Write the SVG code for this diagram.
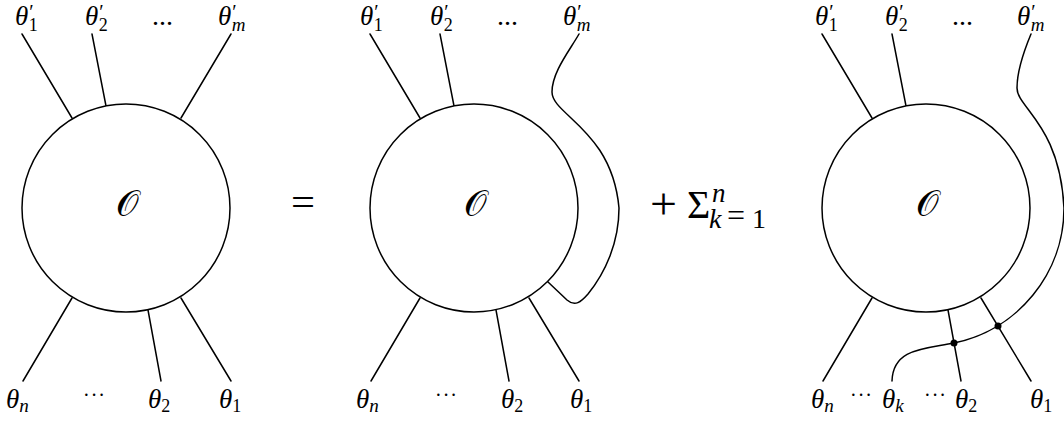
<svg xmlns="http://www.w3.org/2000/svg" width="1064" height="421" viewBox="0 0 1064 421">
<style>
.w{fill:none;stroke:#000;stroke-width:1.5;stroke-linecap:round}
.c{fill:#fff;stroke:#000;stroke-width:1.5}
text{font-family:'Liberation Serif','Times New Roman',serif;fill:#000}
.t{font-style:italic;font-size:27px}
.p{font-style:normal;font-size:20px}
.s{font-style:normal;font-size:18px}
.si{font-style:italic;font-size:19px}
.d{font-size:28px}
.cd{font-size:20px;letter-spacing:1px}
.O{font-family:'DejaVu Serif','Liberation Serif',serif;font-size:36px;text-anchor:middle}
</style>
<g id="connectors">
  <line class="w" x1="22" y1="34" x2="72" y2="118"/>
  <line class="w" x1="92" y1="34" x2="106" y2="106"/>
  <line class="w" x1="231" y1="34" x2="181" y2="118"/>
  <line class="w" x1="72" y1="298" x2="23" y2="381"/>
  <line class="w" x1="148" y1="310" x2="161" y2="381"/>
  <line class="w" x1="181" y1="298" x2="231" y2="381"/>

  <line class="w" x1="370" y1="34" x2="420" y2="118"/>
  <line class="w" x1="440" y1="34" x2="454" y2="106"/>
  <line class="w" x1="420" y1="298" x2="371" y2="381"/>
  <line class="w" x1="496" y1="310" x2="509" y2="381"/>
  <line class="w" x1="529" y1="298" x2="579" y2="381"/>
  <path class="w" d="M579,34 C570,50 552,72 552,92 C552,115 612,130 619,208 C619,243 605,273 588,294 C581,302 575,307 567,300 L548,282"/>

  <line class="w" x1="822" y1="34" x2="872" y2="118"/>
  <line class="w" x1="892" y1="34" x2="906" y2="106"/>
  <line class="w" x1="872" y1="298" x2="823" y2="381"/>
  <line class="w" x1="948" y1="310" x2="961" y2="381"/>
  <line class="w" x1="981" y1="298" x2="1031" y2="381"/>
  <path class="w" d="M1031,34 C1026,46 1017,70 1017,88 C1017,108 1060,125 1064,208 A138,138 0 0 1 954,343 C925,349 893,348 892,381"/>
  <circle cx="998" cy="326" r="3.5" fill="#000"/>
  <circle cx="954" cy="343" r="3.5" fill="#000"/>
</g>
<g id="node-O1">
  <circle class="c" cx="126" cy="208" r="104"/>
  <text class="O" x="127" y="216">𝒪</text>
</g>
<g id="node-O2">
  <circle class="c" cx="474" cy="208" r="104"/>
  <text class="O" x="475" y="216">𝒪</text>
</g>
<g id="node-O3">
  <circle class="c" cx="926" cy="208" r="104"/>
  <text class="O" x="927" y="216">𝒪</text>
</g>
<g id="labels-1">
  <text class="t" x="15" y="25">θ<tspan class="p" dx="1" dy="-6">′</tspan><tspan class="s" dx="-5" dy="12">1</tspan></text>
  <text class="t" x="85" y="25">θ<tspan class="p" dx="1" dy="-6">′</tspan><tspan class="s" dx="-5" dy="12">2</tspan></text>
  <text class="d" x="152" y="25">...</text>
  <text class="t" x="218" y="25">θ<tspan class="p" dx="1" dy="-6">′</tspan><tspan class="si" dx="-5" dy="12">m</tspan></text>
  <text class="t" x="6" y="408">θ<tspan class="si" dy="4">n</tspan></text>
  <text class="cd" x="83" y="402">···</text>
  <text class="t" x="148" y="408">θ<tspan class="s" dy="4">2</tspan></text>
  <text class="t" x="219" y="408">θ<tspan class="s" dy="4">1</tspan></text>
</g>
<g id="labels-2">
  <text class="t" x="360" y="25">θ<tspan class="p" dx="1" dy="-6">′</tspan><tspan class="s" dx="-5" dy="12">1</tspan></text>
  <text class="t" x="430" y="25">θ<tspan class="p" dx="1" dy="-6">′</tspan><tspan class="s" dx="-5" dy="12">2</tspan></text>
  <text class="d" x="497" y="25">...</text>
  <text class="t" x="563" y="25">θ<tspan class="p" dx="1" dy="-6">′</tspan><tspan class="si" dx="-5" dy="12">m</tspan></text>
  <text class="t" x="356" y="408">θ<tspan class="si" dy="4">n</tspan></text>
  <text class="cd" x="435" y="402">···</text>
  <text class="t" x="501" y="408">θ<tspan class="s" dy="4">2</tspan></text>
  <text class="t" x="570" y="408">θ<tspan class="s" dy="4">1</tspan></text>
</g>
<g id="labels-3">
  <text class="t" x="815" y="25">θ<tspan class="p" dx="1" dy="-6">′</tspan><tspan class="s" dx="-5" dy="12">1</tspan></text>
  <text class="t" x="885" y="25">θ<tspan class="p" dx="1" dy="-6">′</tspan><tspan class="s" dx="-5" dy="12">2</tspan></text>
  <text class="d" x="952" y="25">...</text>
  <text class="t" x="1017" y="25">θ<tspan class="p" dx="1" dy="-6">′</tspan><tspan class="si" dx="-5" dy="12">m</tspan></text>
  <text class="t" x="811" y="408">θ<tspan class="si" dy="4">n</tspan></text>
  <text class="cd" x="850" y="402">···</text>
  <text class="t" x="882" y="408">θ<tspan class="si" dy="4">k</tspan></text>
  <text class="cd" x="924" y="402">···</text>
  <text class="t" x="955" y="408">θ<tspan class="s" dy="4">2</tspan></text>
  <text class="t" x="1030" y="408">θ<tspan class="s" dy="4">1</tspan></text>
</g>
<g id="operators">
  <text x="291" y="216" font-size="40" textLength="24" lengthAdjust="spacingAndGlyphs">=</text>
  <text x="650" y="219" font-size="44" textLength="27" lengthAdjust="spacingAndGlyphs">+</text>
  <text x="687" y="218" font-size="40">Σ<tspan x="712" y="202" font-size="27" font-style="italic">n</tspan></text>
  <text x="709" y="228" font-size="28" font-style="italic">k<tspan x="727" y="226" font-size="32" font-style="normal">=</tspan><tspan x="752" y="228" font-style="normal">1</tspan></text>
</g>
</svg>
